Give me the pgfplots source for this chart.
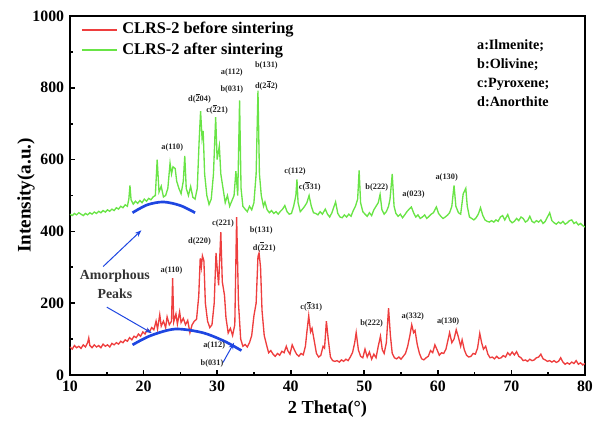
\documentclass[border=0pt]{standalone}
\usepackage{pgfplots}
\pgfplotsset{compat=1.18}
\usepackage{fontspec}
\setmainfont{Liberation Serif}
\usetikzlibrary{arrows.meta}
\definecolor{myred}{RGB}{238,62,62}
\definecolor{mygreen}{RGB}{105,228,70}
\definecolor{annblue}{RGB}{30,70,225}
\newcommand{\ov}[1]{$\overline{\mbox{\bfseries #1}}$}
\begin{document}
\begin{tikzpicture}
\begin{axis}[
  at={(0,0)}, anchor=south west,
  scale only axis, width=309pt, height=215.4pt,
  xmin=10, xmax=80, ymin=0, ymax=1000,
  xtick={10,20,...,80}, ytick={0,200,...,1000},
  minor xtick={15,25,...,75}, minor ytick={100,300,...,900},
  tick align=inside, xtick pos=bottom, ytick pos=left,
  major tick length=3pt, minor tick length=2pt,
  every tick/.style={black, line width=1pt},
  axis line style={line width=1.2pt},
  /pgf/number format/assume math mode=true,
  /pgf/number format/set thousands separator={},
  ticklabel style={font=\fontsize{9.5}{11}\selectfont\bfseries},
  xlabel={2 Theta(\textdegree)},
  ylabel={Intensity(a.u.)},
  xlabel style={font=\fontsize{11}{13}\selectfont\bfseries, at={(axis description cs:0.5,-0.095)}, anchor=center},
  ylabel style={font=\fontsize{11.5}{13}\selectfont\bfseries, at={(axis description cs:-0.0854,0.5)}, anchor=center},
  clip=true,
]
\addplot[draw=myred, line width=0.8pt] coordinates {
(10.0,78)(10.3,72)(10.6,82)(10.9,76)(11.2,80)(11.5,74)(11.8,84)(12.1,78)(12.4,90)(12.55,103)(12.7,82)
(13.0,76)(13.3,84)(13.6,78)(13.9,82)(14.2,76)(14.5,86)(14.8,80)(15.1,84)(15.4,78)(15.7,88)(16.0,84)
(16.3,90)(16.6,86)(16.9,94)(17.2,90)(17.5,98)(17.8,94)(18.1,104)(18.4,98)(18.7,108)(19.0,104)(19.3,114)
(19.6,108)(19.9,120)(20.2,114)(20.5,126)(20.8,120)(21.1,132)(21.4,126)(21.7,150)(21.9,128)(22.2,168)
(22.4,136)(22.7,150)(23.0,132)(23.2,162)(23.5,140)(23.8,150)(23.95,270)(24.1,148)(24.4,170)(24.6,142)
(24.9,176)(25.1,146)(25.4,158)(25.7,140)(26.0,152)(26.3,118)(26.6,140)(26.9,150)(27.2,155)(27.5,220)
(27.7,325)(27.85,300)(28.0,332)(28.2,318)(28.4,200)(28.7,150)(29.0,132)(29.3,140)(29.6,200)(29.85,340)
(30.0,300)(30.2,250)(30.5,398)(30.7,260)(31.0,222)(31.2,160)(31.5,117)(31.8,130)(32.1,110)(32.4,140)
(32.65,440)(32.9,200)(33.2,100)(33.5,80)(33.8,85)(34.1,78)(34.4,90)(34.7,110)(35.0,165)(35.3,200)
(35.55,330)(35.7,340)(35.9,300)(36.1,180)(36.4,110)(36.7,85)(37.0,62)(37.3,68)(37.6,58)(37.9,52)
(38.2,60)(38.5,55)(38.8,66)(39.1,62)(39.4,80)(39.6,68)(39.9,58)(40.2,84)(40.5,70)(40.8,58)(41.1,52)
(41.4,60)(41.7,56)(42.0,80)(42.2,120)(42.45,165)(42.7,120)(42.9,130)(43.2,95)(43.5,60)(43.8,50)
(44.1,55)(44.4,80)(44.6,75)(44.85,150)(45.1,100)(45.4,50)(45.7,40)(46.0,38)(46.3,40)(46.6,36)(46.9,42)
(47.2,38)(47.5,44)(47.8,40)(48.1,50)(48.4,62)(48.7,90)(48.9,118)(49.2,70)(49.5,52)(49.8,48)(50.1,72)
(50.4,50)(50.7,64)(51.0,44)(51.3,58)(51.6,48)(51.9,80)(52.2,108)(52.45,70)(52.7,60)(53.0,90)(53.3,186)
(53.55,110)(53.8,60)(54.1,48)(54.4,45)(54.7,50)(55.0,44)(55.3,52)(55.6,60)(55.9,80)(56.2,110)(56.45,140)
(56.7,118)(56.9,124)(57.2,85)(57.5,60)(57.8,45)(58.1,42)(58.4,48)(58.7,52)(59.0,68)(59.3,62)(59.6,84)
(59.9,70)(60.2,55)(60.5,62)(60.8,60)(61.1,72)(61.3,90)(61.6,118)(61.9,90)(62.2,100)(62.5,126)(62.8,105)
(63.1,80)(63.3,98)(63.6,70)(63.9,55)(64.2,50)(64.5,52)(64.8,60)(65.1,58)(65.4,75)(65.7,116)(65.95,90)
(66.2,72)(66.5,80)(66.8,58)(67.1,48)(67.4,50)(67.7,45)(68.0,52)(68.3,46)(68.6,48)(68.9,54)(69.2,50)
(69.5,62)(69.8,55)(70.1,64)(70.4,56)(70.7,65)(71.0,52)(71.3,48)(71.6,40)(71.9,42)(72.2,38)(72.5,44)
(72.8,40)(73.1,42)(73.4,48)(73.7,50)(74.0,58)(74.3,45)(74.6,42)(74.9,38)(75.2,40)(75.5,36)(75.8,40)
(76.1,35)(76.4,38)(76.7,48)(77.0,36)(77.3,30)(77.6,34)(77.9,30)(78.2,36)(78.5,32)(78.8,40)(79.1,30)
(79.4,34)(79.7,28)(80.0,32)
};
\addplot[draw=mygreen, line width=0.8pt] coordinates {
(10.0,448)(10.3,444)(10.6,450)(10.9,446)(11.2,452)(11.5,448)(11.8,444)(12.1,450)(12.4,446)(12.7,452)
(13.0,448)(13.3,454)(13.6,450)(13.9,456)(14.2,452)(14.5,458)(14.8,454)(15.1,460)(15.4,456)(15.7,462)
(16.0,458)(16.3,466)(16.6,462)(16.9,470)(17.2,466)(17.5,474)(17.8,470)(18.0,490)(18.15,528)(18.3,488)
(18.6,476)(18.9,484)(19.2,478)(19.5,486)(19.8,480)(20.1,490)(20.4,484)(20.7,492)(21.0,488)(21.3,496)
(21.6,500)(21.85,600)(22.1,510)(22.4,526)(22.7,496)(23.0,500)(23.3,520)(23.6,590)(23.8,560)(24.0,580)
(24.3,575)(24.5,540)(24.8,520)(25.1,505)(25.4,540)(25.6,610)(25.8,520)(26.1,500)(26.4,525)(26.7,495)
(27.0,490)(27.3,520)(27.55,650)(27.75,735)(27.95,660)(28.1,680)(28.3,560)(28.6,500)(28.9,475)(29.2,490)
(29.5,560)(29.8,718)(30.0,600)(30.3,638)(30.5,560)(30.8,520)(31.1,480)(31.4,500)(31.7,470)(32.0,485)
(32.3,500)(32.55,568)(32.8,500)(33.05,765)(33.25,520)(33.5,470)(33.8,462)(34.1,455)(34.4,470)(34.7,460)
(35.0,480)(35.3,560)(35.55,792)(35.75,560)(36.0,500)(36.3,470)(36.5,482)(36.8,460)(37.1,452)(37.4,458)
(37.7,450)(38.0,455)(38.3,448)(38.6,456)(38.9,462)(39.2,472)(39.5,455)(39.8,448)(40.1,450)(40.4,470)
(40.7,500)(40.85,545)(41.0,480)(41.3,455)(41.6,462)(41.9,470)(42.2,480)(42.5,500)(42.8,470)(43.1,452)
(43.4,450)(43.7,446)(44.0,455)(44.3,448)(44.7,462)(45.0,448)(45.3,440)(45.6,452)(45.9,470)(46.1,482)
(46.4,450)(46.7,440)(47.0,438)(47.3,446)(47.6,440)(47.9,448)(48.2,442)(48.5,458)(48.8,470)(49.1,490)
(49.3,570)(49.5,480)(49.8,455)(50.1,448)(50.4,442)(50.7,452)(51.0,444)(51.3,460)(51.6,470)(51.9,480)
(52.15,503)(52.4,460)(52.7,448)(53.0,455)(53.3,470)(53.5,490)(53.8,560)(54.05,470)(54.3,450)(54.6,442)
(54.9,448)(55.2,438)(55.5,446)(55.8,455)(56.1,462)(56.4,468)(56.7,452)(57.0,440)(57.3,446)(57.6,436)
(57.9,440)(58.2,446)(58.5,436)(58.8,442)(59.1,448)(59.4,452)(59.8,468)(60.1,450)(60.4,442)(60.7,436)
(61.0,440)(61.3,445)(61.6,452)(61.9,470)(62.2,528)(62.45,470)(62.8,452)(63.1,448)(63.45,505)(63.8,520)
(64.0,470)(64.3,440)(64.6,436)(64.9,432)(65.2,438)(65.5,448)(65.8,466)(66.1,445)(66.4,432)(66.7,428)
(67.0,426)(67.3,430)(67.6,426)(67.9,432)(68.2,428)(68.5,440)(68.8,444)(69.1,432)(69.5,447)(69.8,430)
(70.1,424)(70.4,428)(70.7,436)(71.0,430)(71.3,440)(71.6,436)(71.9,426)(72.2,430)(72.5,442)(72.8,428)
(73.1,424)(73.4,430)(73.7,426)(74.0,432)(74.3,422)(74.6,428)(74.9,440)(75.2,452)(75.5,430)(75.8,424)
(76.1,420)(76.4,426)(76.7,422)(77.0,428)(77.3,420)(77.6,424)(77.9,430)(78.2,432)(78.5,422)(78.8,426)
(79.1,418)(79.4,422)(79.7,416)(80.0,412)
};
% amorphous humps
\addplot[annblue, line width=1.6pt, smooth] coordinates {
(18.5,452)(20.5,474)(22.7,482)(25,472)(27,452)};
\addplot[annblue, line width=1.6pt, smooth] coordinates {
(18.5,84)(21,110)(24.3,128)(28,118)(31,94)(33.3,68)};
% arrows
\draw[annblue, line width=0.6pt, -{Stealth[length=4pt,width=3pt]}] (axis cs:14.5,302) -- (axis cs:19.7,403);
\draw[annblue, line width=0.6pt, -{Stealth[length=4pt,width=3pt]}] (axis cs:15.0,189) -- (axis cs:21.1,117);
\draw[annblue, line width=0.6pt, -{Stealth[length=4pt,width=3pt]}] (axis cs:30.8,35) -- (axis cs:32.3,90);
\node[font=\fontsize{8.3}{11.4}\selectfont\bfseries, align=center, text=black!80] at (axis cs:16.1,252) {Amorphous\\Peaks};
% legend (drawn by hand)
\draw[myred, line width=0.8pt] (axis description cs:0.023,0.961) -- (axis description cs:0.091,0.961);
\draw[mygreen, line width=0.8pt] (axis description cs:0.023,0.905) -- (axis description cs:0.091,0.905);
\node[font=\fontsize{9.8}{12}\selectfont\bfseries, anchor=west, inner sep=0pt, text=black] at (axis description cs:0.101,0.961) {CLRS-2 before sintering};
\node[font=\fontsize{9.8}{12}\selectfont\bfseries, anchor=west, inner sep=0pt, text=black] at (axis description cs:0.101,0.905) {CLRS-2 after sintering};
% phase key
\node[font=\fontsize{8.5}{11.4}\selectfont\bfseries, align=left, anchor=north west, inner sep=0pt] at (axis cs:65.3,935)
  {a:Ilmenite;\\b:Olivine;\\c:Pyroxene;\\d:Anorthite};
% peak labels
\begin{scope}[every node/.style={font=\fontsize{5}{6}\selectfont\bfseries, inner sep=0pt, text=black!85}]
\node at (axis cs:23.9,634) {a(110)};
\node at (axis cs:27.6,771) {d(\ov{2}04)};
\node at (axis cs:30.0,740) {c(\ov{2}21)};
\node at (axis cs:32.0,843) {a(112)};
\node at (axis cs:32.0,794) {b(031)};
\node at (axis cs:36.7,861) {b(131)};
\node at (axis cs:36.7,807) {d(2\ov{4}2)};
\node at (axis cs:40.6,568) {c(112)};
\node at (axis cs:42.6,526) {c(\ov{3}31)};
\node at (axis cs:51.7,521) {b(222)};
\node at (axis cs:56.7,503) {a(023)};
\node at (axis cs:61.2,549) {a(130)};
\node at (axis cs:23.8,291) {a(110)};
\node at (axis cs:27.6,372) {d(220)};
\node at (axis cs:30.8,422) {c(221)};
\node at (axis cs:36.0,403) {b(131)};
\node at (axis cs:36.4,358) {d(\ov{2}21)};
\node at (axis cs:29.6,81) {a(112)};
\node at (axis cs:29.3,31) {b(031)};
\node at (axis cs:42.8,191) {c(\ov{3}31)};
\node at (axis cs:51.0,144) {b(222)};
\node at (axis cs:56.6,163) {a(332)};
\node at (axis cs:61.4,149) {a(130)};
\end{scope}
\end{axis}
\pgfresetboundingbox
\path[use as bounding box] (-42pt,-28.8pt) rectangle (318pt,225pt);
\end{tikzpicture}
\end{document}
